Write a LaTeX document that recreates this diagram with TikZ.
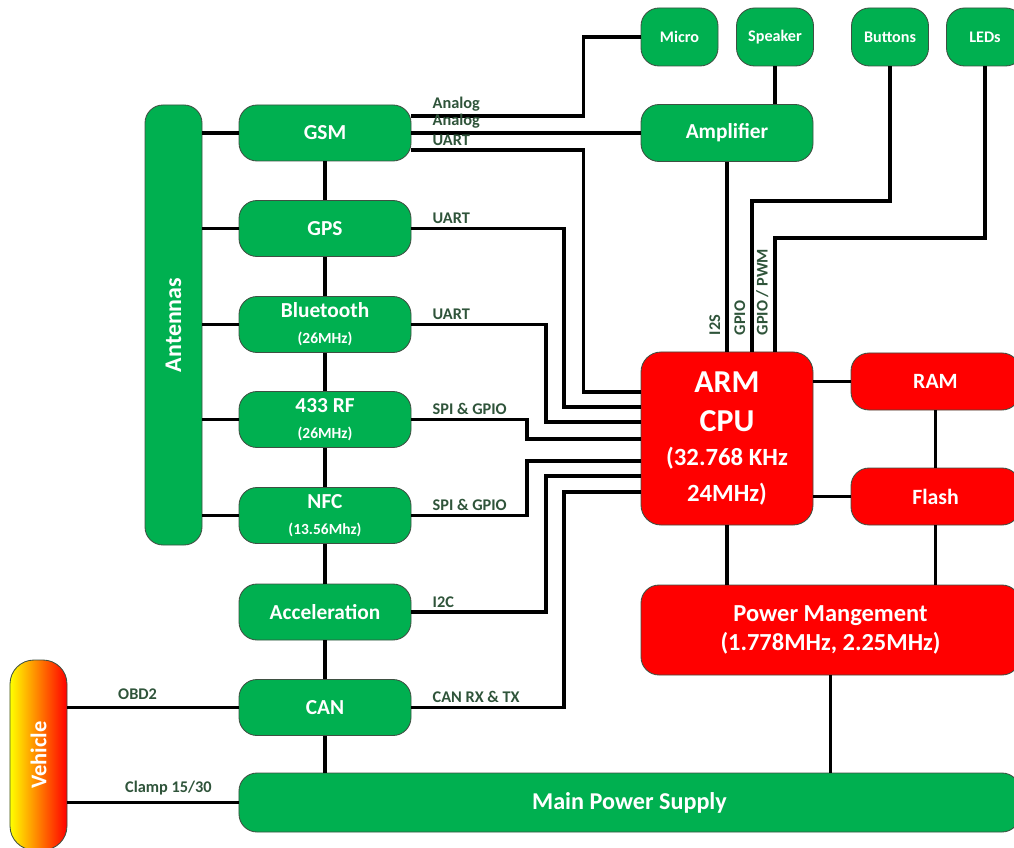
\documentclass[tikz,border=0pt]{standalone}
\usepackage{fontspec}
\setmainfont{Carlito}
\usepackage{graphicx}
\definecolor{modgreen}{RGB}{0,176,80}
\definecolor{cpured}{RGB}{255,0,0}
\definecolor{border}{RGB}{62,80,66}
\definecolor{lbltext}{RGB}{47,84,58}
\newcommand{\modfreq}[1]{{\fontsize{11}{13}\selectfont #1}}
\newcommand{\cpufreq}[1]{{\fontsize{17.6}{20}\selectfont #1}}
\tikzset{
    box/.style={
        rectangle,
        rounded corners=4.5mm,
        draw=border,
        line width=0.6pt,
        align=center,
        inner sep=2pt,
        text=white
    },
    wire/.style={draw=black, line width=2.6pt},
    lbl/.style={
        font=\bfseries\fontsize{11.6}{12}\selectfont,
        text=lbltext,
        inner sep=1pt
    }
}

\begin{document}
\begin{tikzpicture}[
    x=0.25mm, y=-0.25mm,
    module/.style={box, fill=modgreen, minimum width=43mm, minimum height=14mm,
        font=\bfseries\fontsize{15.2}{17}\selectfont},
    periph/.style={box, fill=modgreen, minimum width=19.25mm, minimum height=14.5mm,
        font=\bfseries\fontsize{11.5}{13}\selectfont},
    bar/.style={box, fill=modgreen, font=\bfseries\fontsize{17.2}{20}\selectfont},
    core/.style={box, fill=cpured, font=\bfseries\fontsize{17.4}{20.5}\selectfont},
    mem/.style={core, minimum width=42.25mm, minimum height=14.25mm,
        font=\bfseries\fontsize{15.5}{18}\selectfont},
    hlbl/.style={lbl, anchor=south west, xshift=4.5mm, yshift=1pt},
    vlbl/.style={lbl, rotate=90, anchor=south west},
    clbl/.style={lbl, above=3pt}
]
\useasboundingbox (0,0) rectangle (1014,848);

% peripherals on top
\node[periph] (micro) at (679.5,37) {Micro};
\node[periph] (speaker) at (775,37) {Speaker};
\node[periph] (buttons) at (890,37) {Buttons};
\node[periph] (leds) at (985,37) {LEDs};
\node[module, minimum height=14.25mm] (amp) at (727,133) {Amplifier};

% radio and sensor modules
\node[module] (gsm) at (325,133) {GSM};
\node[module] (gps) at (325,228.5) {GPS};
\node[module] (bt) at (325,324.5) {Bluetooth\\[1.5pt]\modfreq{(26MHz)}};
\node[module] (rf) at (325,419.5) {433 RF\\[1.5pt]\modfreq{(26MHz)}};
\node[module] (nfc) at (325,515.5) {NFC\\[1.5pt]\modfreq{(13.56Mhz)}};
\node[module] (acc) at (325,612) {Acceleration};
\node[module] (can) at (325,707.5) {CAN};
\node[bar, minimum width=14.25mm, minimum height=110mm] (ant) at (173.5,325)
    {\fontsize{17}{20}\selectfont\rotatebox{90}{Antennas}};
\node[box, left color=yellow, right color=red, middle color=orange,
    minimum width=14.25mm, minimum height=47.5mm, rounded corners=6mm] (veh) at (38.5,755)
    {\bfseries\fontsize{16}{19}\selectfont\rotatebox{90}{Vehicle}};
\node[bar, minimum width=195.25mm, minimum height=14.75mm] (mps) at (629.5,802.5) {Main Power Supply};

% processor side
\node[core, minimum width=43mm, minimum height=43.25mm, rounded corners=5mm,
    font=\bfseries\fontsize{22.7}{28}\selectfont] (cpu) at (727,438.5)
    {ARM\\CPU\\[-4pt]\cpufreq{(32.768 KHz}\\[-2.5pt]\cpufreq{24MHz)}};
\node[mem] (ram) at (935.5,381.5) {RAM};
\node[mem] (flash) at (935.5,496.5) {Flash};
\node[core, minimum width=94.75mm, minimum height=22.5mm] (pm) at (830.5,630)
    {Power Mangement\\(1.778MHz, 2.25MHz)};

% antennas and module chain
\foreach \m in {gsm,gps,bt,rf,nfc}
    \draw[wire] (\m.west) -- (\m.west -| ant.east);
\foreach \a/\b in {gsm/gps, gps/bt, bt/rf, rf/nfc, nfc/acc, acc/can}
    \draw[wire] (\a) -- (\b);
\draw[wire] (can) -- (can.south |- mps.north);

% GSM audio and serial lines
\draw[wire] ([yshift=4.25mm]gsm.east) node[hlbl] {Analog} -- ++(172,0) |- (micro.west);
\draw[wire] (gsm.east) node[hlbl] {Analog} -- (gsm.east -| amp.west);
\draw[wire] ([yshift=-4.25mm]gsm.east) node[hlbl] {UART} -- ++(172,0) |- (cpu.west |- 0,392);

% bus lines into the CPU
\foreach \m/\lab/\bx/\cy in {gps/UART/564/407, bt/UART/546/422, rf/SPI \& GPIO/527/439,
    nfc/SPI \& GPIO/527/461, acc/I2C/546/476, can/CAN RX \& TX/564/492}
    \draw[wire] (\m.east) node[hlbl] {\lab} -| (\bx,\cy) -- (cpu.west |- 0,\cy);

% top peripherals
\draw[wire] (speaker) -- (speaker.south |- amp.north);
\draw[wire] (amp.south) -- (amp.south |- cpu.north);
\draw[wire] (buttons.south) |- (752,201) -- (752,201 |- cpu.north);
\draw[wire] (leds.south) |- (775,238) -- (775,238 |- cpu.north);
\node[vlbl] (i2s) at (722,337) {I2S};
\node[vlbl] (gpio) at (747,337) {GPIO};
\node[vlbl] (pwm) at (770,337) {GPIO / PWM};

% memory and power
\draw[wire] (cpu.east |- ram.west) -- (ram.west);
\draw[wire] (cpu.east |- flash.west) -- (flash.west);
\draw[wire] (ram) -- (flash);
\draw[wire] (flash.south) -- (flash.south |- pm.north);
\draw[wire] (cpu.south) -- (cpu.south |- pm.north);
\draw[wire] (pm.south) -- (pm.south |- mps.north);

% vehicle
\draw[wire] (veh.east |- can.west) -- node[clbl, pos=0.41] {OBD2} (can.west);
\draw[wire] (veh.east |- mps.west) -- node[clbl, pos=0.59] {Clamp 15/30} (mps.west);

\end{tikzpicture}
\end{document}
